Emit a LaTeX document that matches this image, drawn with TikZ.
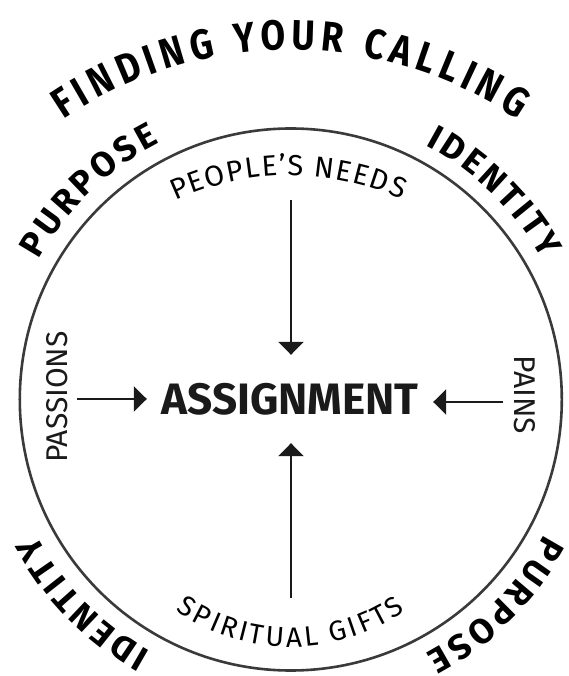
\documentclass[tikz,border=0pt]{standalone}
\usepackage{fontspec}
\setmainfont{Fira Sans}
\newfontfamily\outerfont{Fira Sans}[FakeStretch=0.85]
\usetikzlibrary{decorations.text,arrows.meta}
\definecolor{ink}{HTML}{1A1A1A}
\definecolor{rim}{HTML}{3A3A3A}
\begin{document}
\begin{tikzpicture}[x=1pt,y=1pt,
  arrowline/.style={draw=ink,line width=2.6pt,-{Triangle[width=25pt,length=13pt]}},
  arctext/.style={decorate,decoration={text along path,text align={fit to path},text={#1}}},
  sidelabel/.style={inner sep=0pt,text=ink,font=\fontsize{30}{30}\selectfont},
]
\useasboundingbox (-290.5,-276.5) rectangle (278.5,399.5);
\draw[rim,line width=2.6pt] (0.3,0) circle[radius=271];

\node[inner sep=0pt,minimum width=286pt,minimum height=88pt,text=ink,
  font=\bfseries\fontsize{44}{44}\selectfont] (asg) at (-0.5,0.5) {ASSIGNMENT};
\coordinate (srcL) at (-213.5,0.5);
\coordinate (srcR) at (212.5,-2.5);
\coordinate (srcT) at (0.5,199.5);
\coordinate (srcB) at (0.5,-198.5);
\draw[arrowline] (srcL) -- (srcL -| asg.west);
\draw[arrowline] (srcR) -- (srcR -| asg.east);
\draw[arrowline] (srcT) -- (srcT |- asg.north);
\draw[arrowline] (srcB) -- (srcB |- asg.south);

\node[sidelabel,rotate=90] (pas) at (-233.5,2.5) {PASSIONS};
\node[sidelabel,rotate=-90] (pai) at (234.5,4.5) {PAINS};

\path[arctext={|\outerfont\bfseries\fontsize{42}{42}\selectfont|FINDING YOUR CALLING}]
  ([shift={(0,-56.5)}]124:406) arc[start angle=124,end angle=56,radius=406];
\path[arctext={|\bfseries\fontsize{35}{35}\selectfont|PURPOSE}]
  (151:288) arc[start angle=151,end angle=117,radius=288];
\path[arctext={|\bfseries\fontsize{35}{35}\selectfont|IDENTITY}]
  (62:288) arc[start angle=62,end angle=29,radius=288];
\path[arctext={|\bfseries\fontsize{35}{35}\selectfont|IDENTITY}]
  (241:288) arc[start angle=241,end angle=208,radius=288];
\path[arctext={|\bfseries\fontsize{35}{35}\selectfont|PURPOSE}]
  (332:288) arc[start angle=332,end angle=298,radius=288];
\path[arctext={|\fontsize{29}{29}\selectfont|PEOPLE’S NEEDS}]
  ([shift={(0,-49)}]115:273) arc[start angle=115,end angle=66,radius=273];
\path[arctext={|\fontsize{28}{28}\selectfont|SPIRITUAL GIFTS}]
  ([shift={(0,-47.5)}]235:200) arc[start angle=235,end angle=305,radius=200];
\end{tikzpicture}
\end{document}
